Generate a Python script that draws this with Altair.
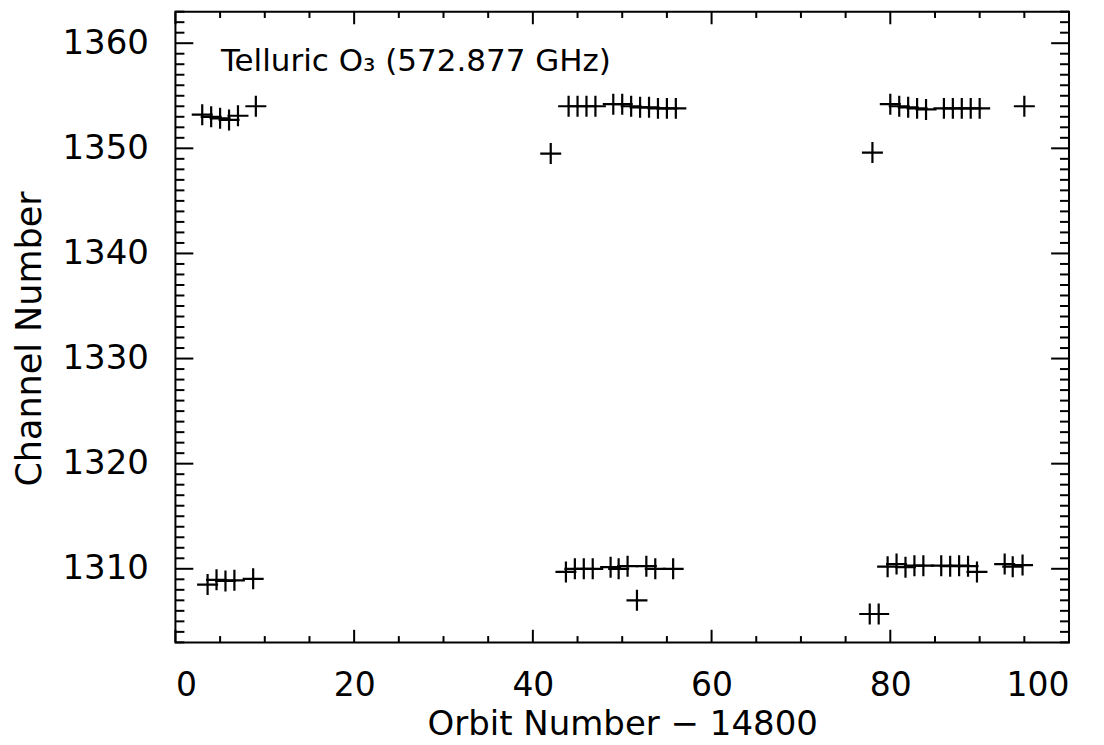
import altair as alt
import pandas as pd

# ---- data ----
orbit_upper = [3, 4, 5, 6, 7, 9,
               42, 44, 45, 46, 47, 49, 50, 51, 52, 53, 54, 55, 56,
               78, 80, 81, 82, 83, 84, 86, 87, 88, 89, 90, 95]
channel_upper = [1353.2, 1353.0, 1352.85, 1352.7, 1353.1, 1354.0,
                 1349.5, 1354.0, 1354.0, 1354.0, 1354.0, 1354.2, 1354.2, 1354.0, 1353.9, 1353.9, 1353.8, 1353.8, 1353.8,
                 1349.6, 1354.2, 1354.0, 1353.9, 1353.8, 1353.7, 1353.8, 1353.8, 1353.8, 1353.8, 1353.8, 1354.0]

orbit_lower = [3.6, 4.6, 5.6, 6.6, 8.7,
               43.7, 44.7, 45.7, 46.7, 48.7, 49.6, 50.6, 51.65, 52.7, 53.7, 55.7,
               77.7, 78.7, 79.7, 80.7, 81.7, 82.7, 83.7, 85.7, 86.7, 87.7, 88.7, 89.7, 92.8, 93.7, 94.8]
channel_lower = [1308.5, 1308.95, 1308.85, 1308.9, 1309.05,
                 1309.7, 1310.0, 1310.0, 1310.0, 1310.15, 1310.0, 1310.25, 1307.0, 1310.25, 1310.0, 1310.0,
                 1305.7, 1305.7, 1310.2, 1310.45, 1310.15, 1310.3, 1310.3, 1310.3, 1310.25, 1310.3, 1310.25, 1309.7,
                 1310.45, 1310.2, 1310.35]

x_major = [0, 20, 40, 60, 80, 100]
x_minor = [5, 10, 15, 25, 30, 35, 45, 50, 55, 65, 70, 75, 85, 90, 95]
y_major = [1310, 1320, 1330, 1340, 1350, 1360]
y_minor = [v for v in range(1303, 1364) if v % 10 != 0]

annotation = "Telluric O\u2083 (572.877 GHz)"
x_title = "Orbit Number \u2212 14800"
y_title = "Channel Number"

# ---- layout ----
W, H = 894, 631
FONT = "DejaVu Sans"
XMAJ, XMIN = 12.6, 6.3
YMAJ, YMIN = 17.9, 9.0

xscale = alt.Scale(domain=[0, 100], nice=False, zero=False)
yscale = alt.Scale(domain=[1303, 1363], nice=False, zero=False)

xaxis = alt.Axis(values=x_major, format="d", ticks=False, domain=False, grid=False,
                 labelFontSize=33, labelPadding=27, labelFont=FONT, labelColor="black",
                 title=x_title, titleFontSize=34, titleFont=FONT, titleFontWeight="normal",
                 titleColor="black", titleY=92, titleBaseline="alphabetic")
yaxis = alt.Axis(values=y_major, format="d", ticks=False, domain=False, grid=False,
                 labelFontSize=34, labelPadding=27, labelFont=FONT, labelColor="black",
                 title=y_title, titleFontSize=35, titleFont=FONT, titleFontWeight="normal",
                 titleColor="black", titleAngle=270, titleX=-135, titleY=327,
                 titleBaseline="alphabetic", titleAlign="center")

pts = pd.DataFrame({
    "orbit": orbit_upper + orbit_lower,
    "channel": channel_upper + channel_lower,
})

points = alt.Chart(pts).mark_point(
    shape="M-1,0L1,0M0,-1L0,1", size=441, strokeWidth=2.2,
    color="black", filled=False, opacity=1
).encode(
    x=alt.X("orbit:Q", scale=xscale, axis=xaxis),
    y=alt.Y("channel:Q", scale=yscale, axis=yaxis),
)


def xticks(vals, length, top):
    df = pd.DataFrame({"orbit": vals})
    if top:
        yv, y2v = 0, length
    else:
        yv, y2v = H, H - length
    return alt.Chart(df).mark_rule(color="black", strokeWidth=2).encode(
        x=alt.X("orbit:Q", scale=xscale, axis=xaxis),
        y=alt.value(yv), y2=alt.value(y2v),
    )


def yticks(vals, length, left):
    df = pd.DataFrame({"channel": vals})
    if left:
        xv, x2v = 0, length
    else:
        xv, x2v = W, W - length
    return alt.Chart(df).mark_rule(color="black", strokeWidth=2).encode(
        y=alt.Y("channel:Q", scale=yscale, axis=yaxis),
        x=alt.value(xv), x2=alt.value(x2v),
    )


ticks = [
    xticks(x_major, XMAJ, False), xticks(x_minor, XMIN, False),
    xticks(x_major, XMAJ, True), xticks(x_minor, XMIN, True),
    yticks(y_major, YMAJ, True), yticks(y_minor, YMIN, True),
    yticks(y_major, YMAJ, False), yticks(y_minor, YMIN, False),
]

label = alt.Chart(pd.DataFrame({"t": [annotation]})).mark_text(
    align="left", baseline="middle", font=FONT, fontSize=31, color="black"
).encode(
    x=alt.value(45.5), y=alt.value(50), text="t:N"
)

chart = alt.layer(points, *ticks, label).properties(
    width=W, height=H,
    autosize=alt.AutoSizeParams(type="none"),
    padding={"left": 167.5, "top": 3.5, "right": 27, "bottom": 102},
).configure_view(
    stroke="black", strokeWidth=2
)

chart.save("out.html", embed_options={"renderer": "svg", "actions": False})
